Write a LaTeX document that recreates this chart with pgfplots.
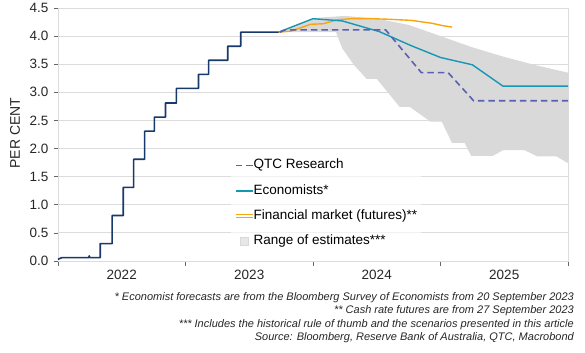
\documentclass[border=0pt]{standalone}
\usepackage{fontspec}
\setmainfont{Liberation Sans}
\usepackage{pgfplots}
\pgfplotsset{compat=1.18}
\definecolor{navy}{HTML}{17396B}
\definecolor{teal2}{HTML}{1597B4}
\definecolor{orng}{HTML}{F8A50C}
\definecolor{qtc}{HTML}{5A60B2}
\definecolor{rng}{HTML}{D9D9D9}
\definecolor{gridc}{HTML}{DCDCDC}
\definecolor{txt}{HTML}{262626}
\begin{document}
\begin{tikzpicture}
\path[use as bounding box] (-58bp,-92bp) rectangle (527bp,261bp);
\begin{axis}[
  at={(0,0)}, anchor=south west,
  scale only axis, width=510bp, height=253bp,
  xmin=2022, xmax=2026, ymin=0, ymax=4.5,
  xtick={2022,2023,2024,2025,2026},
  x tick label as interval,
  xticklabels={2022,2023,2024,2025},
  ytick={0,0.5,...,4.5},
  yticklabel style={xshift=-1.5bp, /pgf/number format/.cd, fixed, fixed zerofill, precision=1},
  /pgf/number format/assume math mode=true,
  tick label style={font=\fontsize{13.5bp}{15bp}\selectfont, text=txt},
  xticklabel style={yshift=-1.5bp},
  tick align=outside, xtick pos=lower, ytick pos=left,
  major tick length=4.5bp,
  tick style={draw=gray!80!black, line width=0.6bp},
  axis line style={draw=gridc, line width=0.8bp},
  ymajorgrids, grid style={draw=gridc, line width=0.8bp},
  ylabel={PER CENT},
  ylabel style={font=\fontsize{14bp}{16bp}\selectfont, text=txt,
    at={(axis description cs:-0.0843,0.505)}, anchor=center},
  legend style={at={(axis description cs:0.339,0.42)}, anchor=north west, draw=none,
    fill=white, fill opacity=0.6, text opacity=1,
    font=\fontsize{13.5bp}{15bp}\selectfont, inner sep=4bp,
    nodes={inner sep=0pt, text height=10bp, text depth=3bp},
    row sep=12.3bp,
    /tikz/every even column/.append style={column sep=3.3bp}},
  legend cell align=left,
  clip=false,
]
% legend entries
\addlegendimage{legend image code/.code={\draw[qtc, line width=1.6bp, dash pattern=on 6.5bp off 4bp] (0bp,0bp) -- (17bp,0bp);}}
\addlegendentry{QTC Research}
\addlegendimage{legend image code/.code={\draw[teal2, line width=1.6bp] (0bp,0bp) -- (17bp,0bp);}}
\addlegendentry{Economists*}
\addlegendimage{legend image code/.code={\draw[orng, line width=1bp] (0bp,1.3bp) -- (17bp,1.3bp); \draw[orng, line width=1bp] (0bp,-1.3bp) -- (17bp,-1.3bp);}}
\addlegendentry{Financial market (futures)**}
\addlegendimage{legend image code/.code={\fill[rng] (4.5bp,-4bp) rectangle (12.5bp,4bp);}}
\addlegendentry{Range of estimates***}
% range of estimates
\addplot[forget plot, fill=rng, draw=none] coordinates {
(2023.74,4.07) (2024.0,4.32) (2024.25,4.36) (2024.5,4.31) (2024.75,4.20) (2025.0,4.00)
(2025.25,3.80) (2025.5,3.63) (2025.75,3.48) (2026.0,3.35)
(2026.0,1.74) (2025.91,1.86) (2025.76,1.86) (2025.66,1.97) (2025.49,1.97) (2025.41,1.87)
(2025.24,1.87) (2025.19,2.10) (2025.09,2.10) (2025.01,2.48) (2024.92,2.48) (2024.76,2.74)
(2024.68,2.74) (2024.50,3.24) (2024.42,3.24) (2024.32,3.49) (2024.23,3.78) (2024.18,4.07)
(2023.74,4.07)};
% cash rate history
\addplot[forget plot, navy, line width=1.6bp, line join=round] coordinates {
(2022.0,0.03) (2022.03,0.06) (2022.24,0.06) (2022.245,0.09) (2022.25,0.06) (2022.331,0.06)
(2022.331,0.31) (2022.425,0.31) (2022.425,0.81) (2022.512,0.81) (2022.512,1.31)
(2022.593,1.31) (2022.593,1.81) (2022.68,1.81) (2022.68,2.31) (2022.756,2.31)
(2022.756,2.56) (2022.843,2.56) (2022.843,2.81) (2022.929,2.81) (2022.929,3.07)
(2023.102,3.07) (2023.102,3.32) (2023.181,3.32) (2023.181,3.57) (2023.331,3.57)
(2023.331,3.82) (2023.433,3.82) (2023.433,4.07) (2023.74,4.07)};
% futures
\addplot[forget plot, orng, line width=1.4bp] coordinates {
(2023.73,4.07) (2023.83,4.09) (2023.98,4.21) (2024.08,4.22) (2024.19,4.29) (2024.30,4.31)
(2024.46,4.31) (2024.59,4.30) (2024.77,4.28) (2024.93,4.23) (2025.01,4.19) (2025.09,4.16)};
% economists
\addplot[forget plot, teal2, line width=1.4bp] coordinates {
(2023.74,4.08) (2024.0,4.31) (2024.23,4.27) (2024.52,4.08) (2024.77,3.83) (2025.0,3.62)
(2025.25,3.49) (2025.49,3.11) (2026.0,3.11)};
% QTC research
\addplot[forget plot, qtc, line width=1.6bp, dash pattern=on 6.5bp off 4bp] coordinates {
(2023.74,4.07) (2023.78,4.11) (2024.57,4.11) (2024.85,3.35) (2025.06,3.35) (2025.26,2.85)
(2026.0,2.85)};
\end{axis}
\node[anchor=north east, align=right, font=\fontsize{11bp}{13.6bp}\selectfont\itshape, text=txt, inner sep=0pt]
  at (516bp,-31bp) {* Economist forecasts are from the Bloomberg Survey of Economists from 20 September 2023\\
  ** Cash rate futures are from 27 September 2023\\
  *** Includes the historical rule of thumb and the scenarios presented in this article\\
  Source: Bloomberg, Reserve Bank of Australia, QTC, Macrobond};
\end{tikzpicture}
\end{document}
